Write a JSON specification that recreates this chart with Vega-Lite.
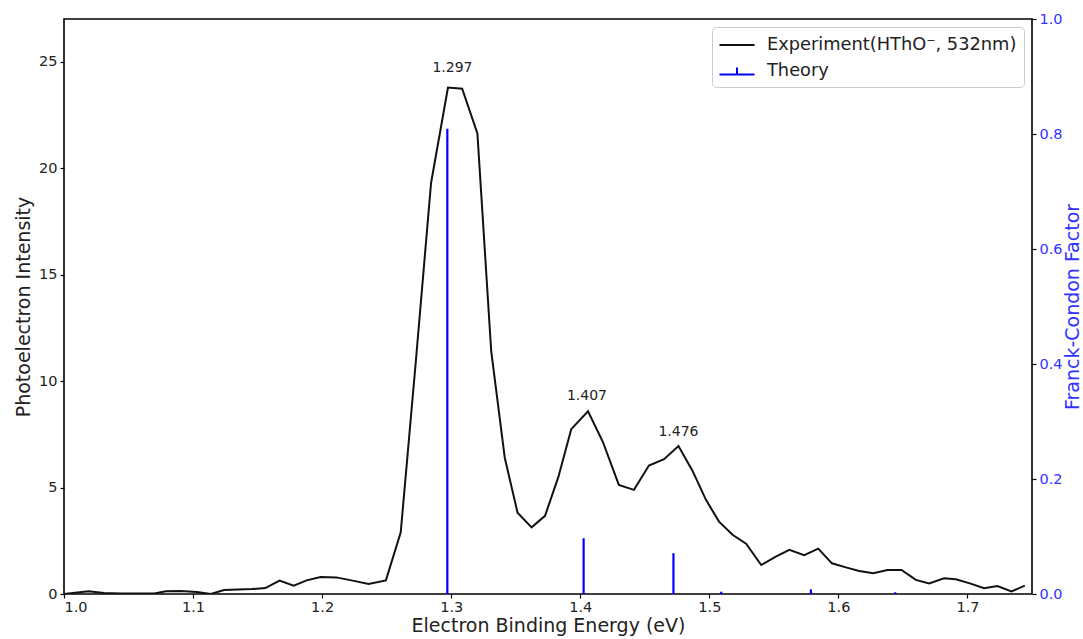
{
  "$schema": "https://vega.github.io/schema/vega-lite/v6.json",
  "width": 968,
  "height": 575,
  "autosize": {"type": "none"},
  "padding": {"left": 64, "top": 19, "right": 51, "bottom": 45},
  "background": "white",
  "config": {
    "font": "DejaVu Sans",
    "view": {"stroke": "black", "strokeWidth": 1.6},
    "axis": {"grid": false, "domain": false, "tickColor": "black", "tickSize": 4, "tickWidth": 1.2, "labelFontSize": 14.5, "labelColor": "#222222", "titleFontSize": 19, "titleFontWeight": "normal", "titleColor": "#222222", "labelFont": "DejaVu Sans", "titleFont": "DejaVu Sans"}
  },
  "datasets": {
    "exp": [
      {"E": 1.0, "I": 0.0}, {"E": 1.007, "I": 0.05}, {"E": 1.019, "I": 0.13}, {"E": 1.031, "I": 0.05},
      {"E": 1.044, "I": 0.02}, {"E": 1.057, "I": 0.02}, {"E": 1.07, "I": 0.02}, {"E": 1.079, "I": 0.13},
      {"E": 1.09, "I": 0.14}, {"E": 1.103, "I": 0.09}, {"E": 1.1137, "I": 0.0}, {"E": 1.124, "I": 0.19},
      {"E": 1.135, "I": 0.21}, {"E": 1.1456, "I": 0.23}, {"E": 1.156, "I": 0.28}, {"E": 1.167, "I": 0.63},
      {"E": 1.178, "I": 0.39}, {"E": 1.188, "I": 0.64}, {"E": 1.1988, "I": 0.8}, {"E": 1.211, "I": 0.78},
      {"E": 1.2228, "I": 0.64}, {"E": 1.236, "I": 0.47}, {"E": 1.2494, "I": 0.64}, {"E": 1.2609, "I": 2.9},
      {"E": 1.2727, "I": 11.0}, {"E": 1.2844, "I": 19.3}, {"E": 1.2975, "I": 23.78}, {"E": 1.3085, "I": 23.73},
      {"E": 1.3203, "I": 21.63}, {"E": 1.331, "I": 11.4}, {"E": 1.3415, "I": 6.4}, {"E": 1.3514, "I": 3.82},
      {"E": 1.3623, "I": 3.13}, {"E": 1.3727, "I": 3.67}, {"E": 1.3831, "I": 5.51}, {"E": 1.393, "I": 7.74},
      {"E": 1.406, "I": 8.58}, {"E": 1.4174, "I": 7.16}, {"E": 1.4299, "I": 5.12}, {"E": 1.4416, "I": 4.89},
      {"E": 1.4532, "I": 6.03}, {"E": 1.4649, "I": 6.33}, {"E": 1.4761, "I": 6.95}, {"E": 1.487, "I": 5.78},
      {"E": 1.4974, "I": 4.42}, {"E": 1.5075, "I": 3.4}, {"E": 1.5182, "I": 2.77}, {"E": 1.5285, "I": 2.36},
      {"E": 1.5402, "I": 1.36}, {"E": 1.5515, "I": 1.75}, {"E": 1.562, "I": 2.07}, {"E": 1.5735, "I": 1.82},
      {"E": 1.5844, "I": 2.13}, {"E": 1.595, "I": 1.44}, {"E": 1.6058, "I": 1.25}, {"E": 1.6161, "I": 1.08},
      {"E": 1.627, "I": 0.97}, {"E": 1.638, "I": 1.13}, {"E": 1.6489, "I": 1.13}, {"E": 1.66, "I": 0.66},
      {"E": 1.6703, "I": 0.5}, {"E": 1.6819, "I": 0.74}, {"E": 1.691, "I": 0.69}, {"E": 1.7018, "I": 0.5},
      {"E": 1.7129, "I": 0.27}, {"E": 1.7232, "I": 0.37}, {"E": 1.7341, "I": 0.12}, {"E": 1.7444, "I": 0.39}
    ],
    "theory": [
      {"E": 1.297, "FC": 0.809}, {"E": 1.4026, "FC": 0.097}, {"E": 1.4722, "FC": 0.071},
      {"E": 1.5092, "FC": 0.004}, {"E": 1.5787, "FC": 0.008}, {"E": 1.644, "FC": 0.003}
    ],
    "labels": [
      {"E": 1.301, "I": 24.7, "label": "1.297"},
      {"E": 1.4052, "I": 9.3, "label": "1.407"},
      {"E": 1.4761, "I": 7.63, "label": "1.476"}
    ]
  },
  "layer": [
    {
      "layer": [
        {
          "data": {"name": "exp"},
          "mark": {"type": "line", "strokeWidth": 2, "clip": true},
          "encoding": {
            "x": {"field": "E", "type": "quantitative", "scale": {"domain": [1.0, 1.75], "nice": false, "zero": false},
                  "axis": {"title": "Electron Binding Energy (eV)", "values": [1.0, 1.1, 1.2, 1.3, 1.4, 1.5, 1.6, 1.7], "format": ".1f", "labelPadding": 2, "titlePadding": 3}},
            "y": {"field": "I", "type": "quantitative", "scale": {"domain": [0, 27], "nice": false},
                  "axis": {"title": "Photoelectron Intensity", "values": [0, 5, 10, 15, 20, 25], "labelPadding": 3, "titlePadding": 5}},
            "color": {"datum": "Experiment(HThO⁻, 532nm)", "type": "nominal",
                      "scale": {"domain": ["Experiment(HThO⁻, 532nm)", "Theory"], "range": ["#111111", "#0000ff"]},
                      "legend": {"orient": "top-right", "offset": 8, "title": null, "fillColor": "white", "strokeColor": "#cccccc", "cornerRadius": 4, "padding": 7,
                                 "labelFontSize": 17.8, "labelFont": "DejaVu Sans", "labelColor": "#222222", "labelLimit": 0, "symbolSize": 400, "symbolStrokeWidth": 2,
                                 "rowPadding": 6, "symbolOffset": 7, "labelOffset": 19, "symbolType": "stroke",
                                 "encode": {"symbols": {"update": {"shape": {"signal": "datum.value === 'Theory' ? 'M-1.75,0.35L1.75,0.35M0,0.35L0,-0.35' : 'M-1.75,0L1.75,0'"}, "stroke": {"signal": "datum.value === 'Theory' ? '#333333' : '#111111'"}}}}}}
          }
        },
        {
          "data": {"name": "labels"},
          "mark": {"type": "text", "fontSize": 14, "color": "#222222", "baseline": "middle", "align": "center"},
          "encoding": {
            "x": {"field": "E", "type": "quantitative"},
            "y": {"field": "I", "type": "quantitative"},
            "text": {"field": "label"}
          }
        }
      ]
    },
    {
      "data": {"name": "theory"},
      "mark": {"type": "rule", "strokeWidth": 2.2},
      "encoding": {
        "x": {"field": "E", "type": "quantitative"},
        "y": {"field": "FC", "type": "quantitative", "scale": {"domain": [0, 1], "nice": false},
              "axis": {"orient": "right", "title": "Franck-Condon Factor", "values": [0, 0.2, 0.4, 0.6, 0.8, 1.0], "format": ".1f",
                       "labelColor": "#3333ff", "titleColor": "#3333ff", "titleAngle": 270, "titleBaseline": "top", "labelPadding": 3, "titlePadding": 1}},
        "y2": {"datum": 0},
        "color": {"datum": "Theory", "type": "nominal"}
      }
    }
  ],
  "resolve": {"scale": {"y": "independent"}, "axis": {"y": "independent"}}
}
